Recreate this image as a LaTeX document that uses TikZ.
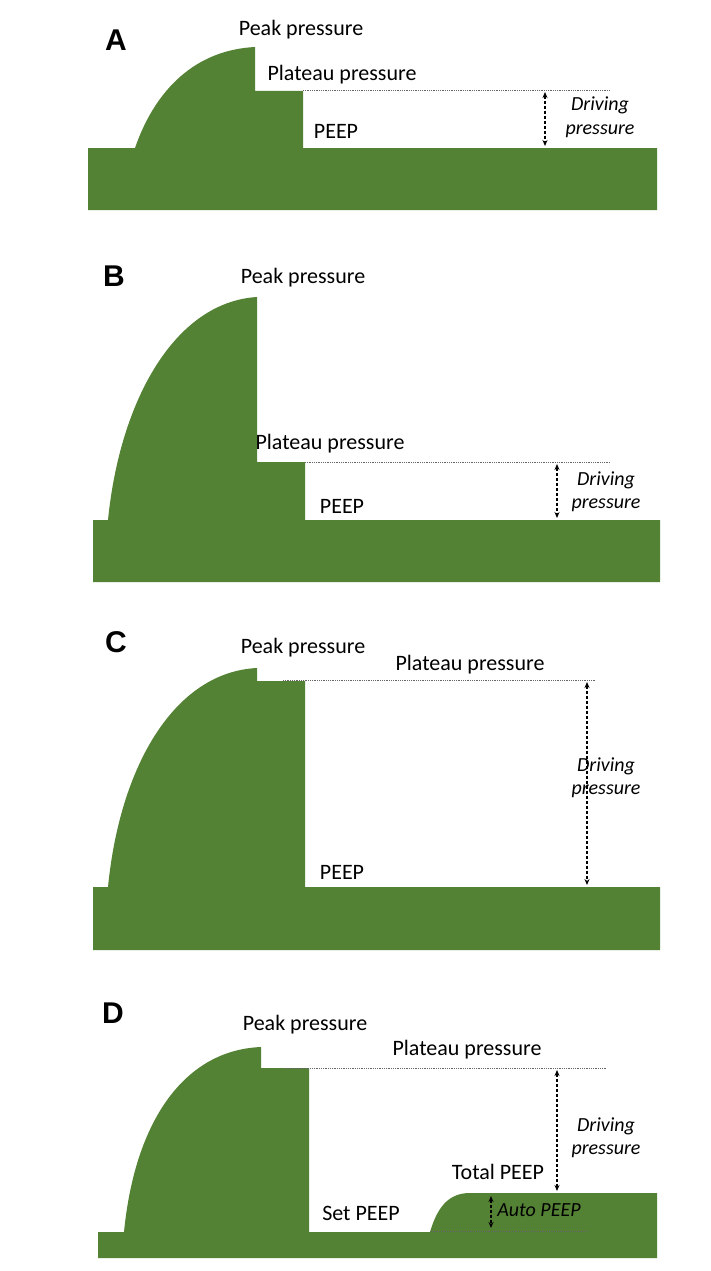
\documentclass[tikz,border=0pt]{standalone}
\usepackage{fontspec}
\setmainfont{Carlito}
\newfontfamily\panelfont{Liberation Sans}
\usetikzlibrary{arrows.meta}
\definecolor{vg}{RGB}{84,130,53}
\begin{document}
\begin{tikzpicture}[x=1pt,y=-1pt,
 wave/.style={fill=vg,draw=none},
 lbl/.style={font=\fontsize{22}{24}\selectfont,inner sep=0pt},
 ital/.style={font=\fontsize{20}{22}\selectfont\itshape,inner sep=0pt},
 panel/.style={font=\fontsize{30}{32}\selectfont\panelfont\bfseries,inner sep=0pt},
 dots/.style={densely dotted,gray!80!black,line width=0.8pt},
 darr/.style={dash pattern=on 3pt off 2pt,line width=1.4pt,{Stealth[length=6pt,width=5pt]}-{Stealth[length=6pt,width=5pt]}}]
\useasboundingbox (0,0) rectangle (711,1271);
% A
\fill[wave] (88,210) -- (88,148) -- (135,148) .. controls (155,90) and (195,50) .. (255,47) -- (255,91) -- (303,91) -- (303,148) -- (657,148) -- (657,210) -- cycle;
\draw[dots] (303,90) -- (610,90);
\coordinate (a1) at (545,92); \coordinate (a2) at (545,146);
\draw[darr] (a1) -- (a2);
\node[panel] (pA) at (116,40) {A};
\node[lbl] (a3) at (301,30) {Peak pressure};
\node[lbl] (a4) at (342,75) {Plateau pressure};
\node[lbl] (a5) at (336,131) {PEEP};
\node[ital] (a6) at (600,105) {Driving};
\node[ital] (a7) at (600,131) {pressure};
% B
\fill[wave] (93,582) -- (93,520) -- (108,520) .. controls (120,400) and (175,302) .. (257,297) -- (257,462) -- (305,462) -- (305,520) -- (660,520) -- (660,582) -- cycle;
\draw[dots] (305,462) -- (610,462);
\coordinate (b1) at (557,464); \coordinate (b2) at (557,518);
\draw[darr] (b1) -- (b2);
\node[panel] (pB) at (114,276) {B};
\node[lbl] (b3) at (303,278) {Peak pressure};
\node[lbl] (b4) at (330,444) {Plateau pressure};
\node[lbl] (b5) at (342,506) {PEEP};
\node[ital] (b6) at (606,480) {Driving};
\node[ital] (b7) at (606,505) {pressure};
% C
\fill[wave] (93,950) -- (93,887) -- (108,887) .. controls (120,765) and (175,672) .. (257,668) -- (257,681) -- (305,681) -- (305,887) -- (660,887) -- (660,950) -- cycle;
\draw[dots] (283,680) -- (595,680);
\coordinate (c1) at (587,682); \coordinate (c2) at (587,885);
\draw[darr] (c1) -- (c2);
\node[panel] (pC) at (116,642) {C};
\node[lbl] (c3) at (303,648) {Peak pressure};
\node[lbl] (c4) at (470,665) {Plateau pressure};
\node[lbl] (c5) at (342,872) {PEEP};
\node[ital] (c6) at (606,766) {Driving};
\node[ital] (c7) at (606,791) {pressure};
% D
\fill[wave] (98,1258) -- (98,1232) -- (124,1232) .. controls (135,1120) and (185,1050) .. (261,1047) -- (261,1068) -- (309,1068) -- (309,1232) -- (430,1232) .. controls (438,1205) and (450,1193) .. (470,1193) -- (657,1193) -- (657,1258) -- cycle;
\draw[dots] (285,1068) -- (607,1068);
\draw[dots] (430,1231) -- (588,1231);
\coordinate (d1) at (557,1070); \coordinate (d2) at (557,1191);
\draw[darr] (d1) -- (d2);
\coordinate (d3) at (491,1196); \coordinate (d4) at (491,1228);
\draw[darr] (d3) -- (d4);
\node[panel] (pD) at (113,1013) {D};
\node[lbl] (d5) at (305,1025) {Peak pressure};
\node[lbl] (d6) at (467,1050) {Plateau pressure};
\node[ital] (d7) at (606,1126) {Driving};
\node[ital] (d8) at (606,1151) {pressure};
\node[lbl] (d9) at (498,1172) {Total PEEP};
\node[lbl] (d10) at (361,1213) {Set PEEP};
\node[ital] (d11) at (539,1210) {Auto PEEP};
\end{tikzpicture}
\end{document}
